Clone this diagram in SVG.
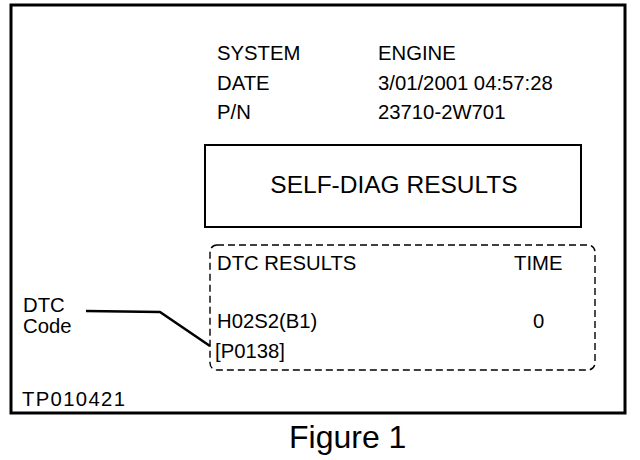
<svg xmlns="http://www.w3.org/2000/svg" width="640" height="460" viewBox="0 0 640 460">
<style>
text{font-family:"Liberation Sans",Arial,sans-serif;fill:#000;font-size:20.3px}
.frame{fill:none;stroke:#000;stroke-width:3}
.box{fill:none;stroke:#000;stroke-width:2}
.dash{fill:none;stroke:#000;stroke-width:1.4;stroke-dasharray:7 4}
.lead{fill:none;stroke:#000;stroke-width:2.6;stroke-linejoin:round}
</style>
<rect width="640" height="460" fill="#fff"/>
<g id="frame">
<rect class="frame" x="11" y="5" width="614" height="408"/>
</g>
<g id="header">
<text x="217" y="60">SYSTEM</text>
<text x="378" y="60">ENGINE</text>
<text x="217" y="90">DATE</text>
<text x="378" y="90">3/01/2001 04:57:28</text>
<text x="217" y="119">P/N</text>
<text x="378" y="119">23710-2W701</text>
</g>
<g id="self-diag">
<rect class="box" x="205" y="145" width="376" height="82"/>
<text x="394" y="193" text-anchor="middle" style="font-size:24.5px">SELF-DIAG RESULTS</text>
</g>
<g id="dtc-results">
<rect class="dash" x="210" y="245" width="385" height="125" rx="7"/>
<text x="217" y="270">DTC RESULTS</text>
<text x="514" y="270">TIME</text>
<text x="217" y="328">H02S2(B1)</text>
<text x="533" y="328">0</text>
<text x="215" y="358">[P0138]</text>
</g>
<g id="dtc-code-label">
<text x="23" y="312">DTC</text>
<text x="23" y="333">Code</text>
</g>
<g id="connectors">
<polyline class="lead" points="86,311 160,312 210,346"/>
</g>
<g id="tp-label">
<text x="22" y="406" textLength="103" lengthAdjust="spacing">TP010421</text>
</g>
<g id="caption">
<text x="289" y="448" style="font-size:32px">Figure 1</text>
</g>
</svg>
